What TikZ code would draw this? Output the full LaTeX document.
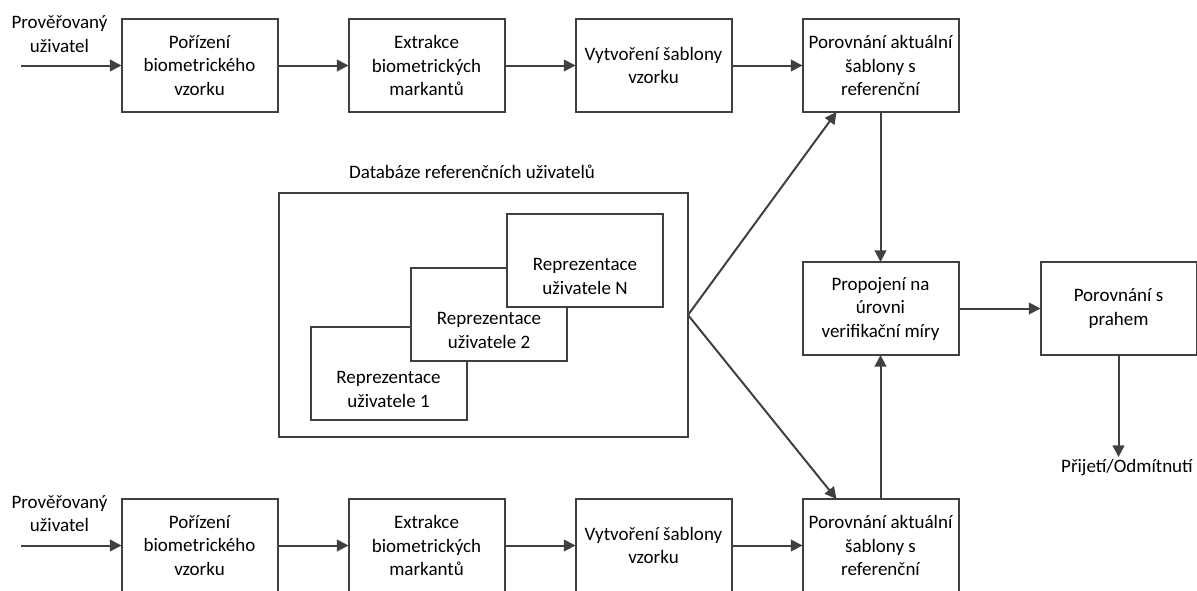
\documentclass[tikz,border=0pt]{standalone}
\usepackage{fontspec}
\setmainfont{Carlito}
\usepackage{tikz}
\usetikzlibrary{arrows.meta,positioning}
\definecolor{linegray}{RGB}{64,64,64}

\begin{document}
\begin{tikzpicture}[->,>={Triangle[length=7pt,width=7pt]},line width=1.2pt,
                    color=linegray,text=black,node distance=42.6pt,
                    font=\fontsize{11.4}{14.1}\selectfont]

  \tikzstyle{block}=[rectangle,draw,align=center,inner sep=0pt,outer sep=0pt,
                     minimum width=93.6pt,minimum height=55.8pt]
  \tikzstyle{repre}=[block,fill=white]
  \tikzstyle{caption}=[align=center,inner sep=1pt]
  \tikzstyle{every label}=[align=center,yshift=-10pt]

  \useasboundingbox (0,0) rectangle (718.2pt,-354pt);
  \clip (0,0) rectangle (718.2pt,-354pt);

  \node[caption] (PU1) at (35.7pt,-20.4pt) {Prověřovaný\\uživatel};
  \coordinate    (IN1) at (12.6pt,-39.3pt);
  \node[block]   (PBV1) at (119.7pt,-39.3pt) {Pořízení\\biometrického\\vzorku};
  \node[block]   (EBM1) [right=of PBV1] {Extrakce\\biometrických\\markantů};
  \node[block]   (VSV1) [right=of EBM1] {Vytvoření šablony\\vzorku};
  \node[block]   (PAS1) [right=of VSV1] {Porovnání aktuální\\šablony s\\referenční};

  \node[block]   (PUV) [below=90pt of PAS1]  {Propojení na\\úrovni\\verifikační míry};
  \node[block]   (PSP) [right=49.2pt of PUV] {Porovnání s\\prahem};
  \node[caption] (PRO) at (676.2pt,-280.8pt) {Přijetí/Odmítnutí};

  \node[caption] (PU2) at (35.7pt,-308.1pt) {Prověřovaný\\uživatel};
  \coordinate    (IN2) at (12.6pt,-327.3pt);
  \node[block]   (PBV2) at (119.7pt,-327.3pt) {Pořízení\\biometrického\\vzorku};
  \node[block]   (EBM2) [right=of PBV2] {Extrakce\\biometrických\\markantů};
  \node[block]   (VSV2) [right=of EBM2] {Vytvoření šablony\\vzorku};
  \node[block]   (PAS2) [right=of VSV2] {Porovnání aktuální\\šablony s\\referenční};

  \node[caption] (DRT) at (283.2pt,-103.2pt) {Databáze referenčních uživatelů};
  \node[block,minimum width=245.4pt,minimum height=146.4pt] (DRU) at (290.1pt,-189pt) {};
  \node[repre,label=center:{Reprezentace\\uživatele 1}] (RU1) at (233.1pt,-223.8pt) {};
  \node[repre,label=center:{Reprezentace\\uživatele 2}] (RU2) at ([xshift=60.3pt,yshift=35.4pt]RU1) {};
  \node[repre,label=center:{Reprezentace\\uživatele N}] (RUN) at ([xshift=57.6pt,yshift=32.4pt]RU2) {};

  \path
  (IN1)  edge (PBV1)
  (PBV1) edge (EBM1)
  (EBM1) edge (VSV1)
  (VSV1) edge (PAS1)

  (IN2)  edge (PBV2)
  (PBV2) edge (EBM2)
  (EBM2) edge (VSV2)
  (VSV2) edge (PAS2)

  (DRU.east) edge ([xshift=20.4pt]PAS1.south west)
  (DRU.east) edge ([xshift=20.4pt]PAS2.north west)

  (PAS1) edge (PUV)
  (PAS2) edge (PUV)
  (PUV)  edge (PSP)
  (PSP)  edge (PSP.south |- PRO.north)
  ;
\end{tikzpicture}
\end{document}
